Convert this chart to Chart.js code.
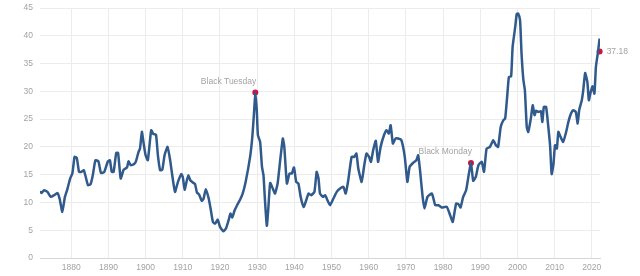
<!DOCTYPE html>
<html>
<head>
<meta charset="utf-8">
<script src="https://cdn.jsdelivr.net/npm/chart.js@4"></script>
<style>
  html, body { margin: 0; padding: 0; background: #fff; }
  #capeChart { display: block; }
</style>
</head>
<body>
<canvas id="capeChart" width="640" height="276"></canvas>
<script>
// Shiller PE (CAPE)
const years = [
  1871.6, 1872.0, 1872.7, 1873.6, 1874.5, 1875.4, 1876.3, 1876.9, 1877.6, 1878.3,
  1879.0, 1879.7, 1880.3, 1880.9, 1881.5, 1882.1, 1882.7, 1883.4, 1884.5, 1885.2,
  1885.8, 1886.5, 1887.3, 1888.0, 1888.9, 1889.8, 1890.4, 1890.9, 1891.4, 1892.1,
  1892.6, 1893.3, 1894.1, 1895.0, 1895.4, 1896.0, 1896.9, 1897.4, 1898.1, 1898.5,
  1899.0, 1899.5, 1900.0, 1900.6, 1901.5, 1902.1, 1902.8, 1903.3, 1903.9, 1904.5,
  1905.1, 1905.9, 1906.6, 1907.1, 1907.9, 1908.7, 1909.6, 1910.0, 1910.5, 1911.1,
  1911.5, 1912.0, 1912.7, 1913.3, 1913.8, 1914.4, 1915.1, 1915.6, 1916.2, 1916.9,
  1917.4, 1918.1, 1918.7, 1919.4, 1920.0, 1920.9, 1921.6, 1922.4, 1922.8, 1923.3,
  1923.9, 1924.6, 1925.4, 1926.1, 1926.9, 1928.1, 1928.7, 1929.2, 1929.5, 1929.9,
  1930.2, 1930.8, 1931.3, 1931.7, 1932.1, 1932.6, 1933.0, 1933.5, 1934.2, 1934.8,
  1935.5, 1936.2, 1936.9, 1937.3, 1938.0, 1938.7, 1939.3, 1939.9, 1940.5, 1941.1,
  1941.7, 1942.5, 1943.2, 1943.8, 1944.5, 1945.4, 1946.0, 1946.5, 1946.9, 1947.7,
  1948.3, 1948.9, 1949.6, 1950.5, 1951.4, 1952.3, 1953.2, 1953.8, 1954.5, 1955.4,
  1956.1, 1956.7, 1957.2, 1958.1, 1958.8, 1959.4, 1960.1, 1960.6, 1961.2, 1961.9,
  1962.5, 1963.2, 1964.1, 1964.8, 1965.4, 1965.9, 1966.5, 1967.2, 1967.9, 1968.8,
  1969.7, 1970.4, 1971.0, 1971.9, 1972.8, 1973.3, 1973.8, 1974.5, 1975.0, 1975.8,
  1977.0, 1977.9, 1978.8, 1979.6, 1981.0, 1981.9, 1982.6, 1983.5, 1984.1, 1984.7,
  1985.4, 1986.2, 1986.8, 1987.5, 1988.1, 1988.8, 1989.5, 1990.4, 1991.0, 1991.7,
  1992.6, 1993.5, 1994.2, 1994.8, 1995.5, 1996.2, 1996.7, 1997.3, 1997.7, 1998.3,
  1998.7, 1999.4, 1999.8, 2000.2, 2000.7, 2001.1, 2001.6, 2002.0, 2002.5, 2002.9,
  2003.6, 2004.1, 2004.6, 2005.0, 2005.6, 2006.3, 2006.7, 2007.1, 2007.7, 2008.3,
  2008.8, 2009.2, 2009.7, 2010.1, 2010.6, 2011.0, 2011.6, 2012.3, 2013.1, 2013.7,
  2014.4, 2015.0, 2015.7, 2016.2, 2016.6, 2017.3, 2017.7, 2018.2, 2018.8, 2019.2,
  2019.7, 2020.2, 2020.7, 2021.1, 2021.6, 2022.1
];
const cape = [
  12.0, 11.7, 12.2, 11.9, 11.0, 11.3, 11.7, 10.6, 8.3, 11.0,
  12.5, 14.3, 15.2, 18.2, 18.0, 15.5, 15.5, 15.8, 13.1, 13.3,
  14.9, 17.6, 17.4, 15.3, 15.5, 17.3, 17.6, 15.5, 15.5, 18.9,
  18.9, 14.3, 15.9, 16.3, 17.4, 16.7, 16.9, 17.4, 19.1, 19.7,
  22.7, 20.5, 18.5, 17.6, 23.0, 22.3, 22.2, 18.5, 15.8, 15.9,
  18.5, 20.0, 17.6, 15.2, 11.9, 13.7, 15.1, 14.6, 12.3, 14.0,
  14.9, 14.0, 13.6, 13.3, 11.8, 11.4, 10.3, 10.7, 12.4, 10.9,
  9.2, 6.5, 6.2, 6.9, 5.6, 4.8, 5.3, 7.0, 8.0, 7.3,
  8.5, 9.5, 10.5, 11.6, 13.7, 18.2, 21.8, 26.6, 29.8, 26.6,
  22.1, 20.9, 16.4, 14.9, 10.4, 5.8, 8.9, 13.5, 12.5, 11.6,
  13.4, 17.6, 21.5, 20.0, 13.4, 15.2, 15.2, 16.3, 13.7, 13.4,
  11.0, 9.2, 10.4, 11.6, 11.3, 11.9, 15.5, 14.3, 11.6, 11.0,
  11.3, 10.4, 9.5, 10.7, 11.9, 12.5, 12.8, 11.6, 14.0, 18.2,
  18.2, 18.8, 16.1, 13.7, 16.7, 18.8, 18.2, 17.3, 19.4, 21.1,
  17.3, 20.0, 22.1, 23.0, 22.4, 23.9, 20.6, 21.5, 21.5, 21.2,
  18.2, 13.7, 16.4, 17.1, 17.6, 18.5, 15.8, 11.0, 8.9, 11.0,
  11.6, 9.5, 9.5, 9.1, 9.2, 7.7, 6.5, 9.8, 9.7, 9.1,
  11.0, 12.2, 14.6, 17.1, 13.9, 14.6, 16.7, 17.3, 15.5, 19.7,
  20.0, 21.2, 20.3, 20.0, 23.6, 24.8, 25.1, 29.6, 32.6, 32.7,
  38.0, 41.6, 43.9, 44.0, 42.8, 36.8, 32.0, 30.2, 23.6, 22.7,
  25.1, 27.5, 25.7, 26.5, 26.3, 26.4, 24.5, 27.2, 27.2, 23.6,
  20.0, 15.1, 17.0, 20.3, 19.7, 22.7, 21.8, 20.9, 22.7, 24.5,
  26.0, 26.6, 26.3, 24.2, 26.6, 28.4, 30.2, 33.3, 31.7, 28.4,
  29.9, 30.9, 29.6, 34.4, 36.8, 39.5
];

// marked points
const eventNames = ['Black Tuesday', 'Black Monday', ''];
const eventYears = [1929.5, 1987.5, 2022.1];
const eventValues = [29.8, 17.1, 37.18];

const yearTicks = [1880, 1890, 1900, 1910, 1920, 1930, 1940, 1950, 1960, 1970, 1980, 1990, 2000, 2010, 2020];
const valueTicks = [0, 5, 10, 15, 20, 25, 30, 35, 40, 45];

const gridColor = '#ececec';
const textColor = '#a3a3a3';
const fontFamily = '"Liberation Sans", Arial, sans-serif';

const eventLabels = {
  id: 'eventLabels',
  afterDatasetsDraw(chart) {
    const ctx = chart.ctx;
    const xs = chart.scales.x;
    const ys = chart.scales.y;
    ctx.save();
    ctx.font = '8.5px ' + fontFamily;
    ctx.fillStyle = textColor;
    ctx.textBaseline = 'middle';
    eventYears.forEach((yr, i) => {
      const px = xs.getPixelForValue(yr);
      const py = ys.getPixelForValue(eventValues[i]);
      if (eventNames[i]) {
        ctx.textAlign = 'right';
        ctx.fillText(eventNames[i], px + 1, py - 11);
      } else {
        ctx.textAlign = 'left';
        ctx.fillText(eventValues[i].toFixed(2), px + 7, py);
      }
    });
    ctx.restore();
  }
};

new Chart(document.getElementById('capeChart').getContext('2d'), {
  type: 'line',
  data: {
    datasets: [{
      data: years.map((x, i) => ({ x: x, y: cape[i] })),
      borderColor: '#30598c',
      borderWidth: 2.5,
      borderJoinStyle: 'round',
      pointRadius: 0,
      tension: 0.15,
      fill: false
    }, {
      type: 'scatter',
      data: eventYears.map((x, i) => ({ x: x, y: eventValues[i] })),
      backgroundColor: '#d3123c',
      borderWidth: 0,
      pointRadius: 3,
      clip: false
    }]
  },
  options: {
    responsive: false,
    animation: false,
    layout: { padding: { top: 8, right: 40, left: 0, bottom: 0 } },
    plugins: { legend: { display: false }, tooltip: { enabled: false } },
    scales: {
      x: {
        type: 'linear',
        min: 1871.6,
        max: 2022.2,
        afterBuildTicks: (scale) => { scale.ticks = yearTicks.map(v => ({ value: v })); },
        afterFit: (scale) => {
          scale.height = 18;
          scale.paddingLeft = 0;
          scale.paddingRight = 0;
        },
        grid: { color: gridColor, drawTicks: false },
        border: { display: true, color: '#d6d6d6' },
        ticks: {
          color: textColor,
          font: { family: fontFamily, size: 8.5 },
          padding: 5,
          maxRotation: 0,
          callback: (v) => String(v)
        }
      },
      y: {
        min: 0,
        max: 45,
        afterBuildTicks: (scale) => { scale.ticks = valueTicks.map(v => ({ value: v })); },
        afterFit: (scale) => {
          scale.width = 40;
          scale.paddingTop = 0;
          scale.paddingBottom = 0;
        },
        grid: { color: gridColor, drawTicks: false },
        border: { display: false },
        ticks: {
          color: textColor,
          font: { family: fontFamily, size: 8.5 },
          padding: 7
        }
      }
    }
  },
  plugins: [eventLabels]
});
</script>
</body>
</html>
